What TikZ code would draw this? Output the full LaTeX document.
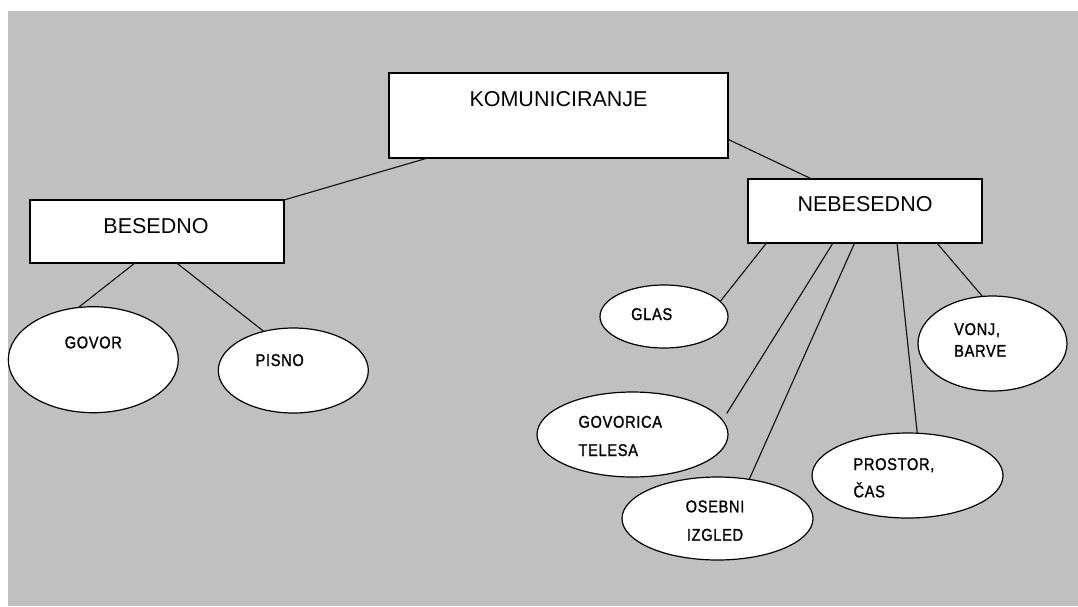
\documentclass[tikz,border=0pt]{standalone}
\usepackage{fontspec}
\setmainfont{Liberation Sans}
\newfontfamily\elfont[FakeStretch=0.86,FakeBold=1.2,LetterSpace=4]{Liberation Sans}
\usetikzlibrary{shapes.geometric}
\definecolor{bg}{HTML}{C0C0C0}
\begin{document}
\begin{tikzpicture}[x=1pt,y=-1pt,
  box/.style={draw=black, line width=1.3pt, fill=white, rectangle, inner sep=0pt, outer sep=0pt},
  oval/.style={draw=black, line width=1.2pt, fill=white, ellipse, inner sep=0pt, outer sep=0pt},
  boxtext/.style={font=\fontsize{21.5}{25}\selectfont, inner sep=0pt, anchor=base, text=black},
  ovtext/.style={font=\elfont\fontsize{17}{20}\selectfont, inner sep=0pt, anchor=base west, text=black},
  link/.style={draw=black!90, line width=1.2pt}]
\fill[white] (0,0) rectangle (1078,606);
\useasboundingbox (0,0) rectangle (1078,606);
\fill[bg] (8,11) rectangle (1078,606);

% shapes
\node[box, minimum width=339pt, minimum height=85pt] (kom) at (558.5,115.5) {};
\node[box, minimum width=254pt, minimum height=63pt] (bes) at (157,231.5) {};
\node[box, minimum width=234pt, minimum height=64pt] (neb) at (865,211) {};
\node[oval, minimum width=170pt, minimum height=106pt] (gov) at (93.3,359.7) {};
\node[oval, minimum width=150pt, minimum height=85pt] (pis) at (293.3,370.5) {};
\node[oval, minimum width=128pt, minimum height=63pt] (glas) at (664,316.5) {};
\node[oval, minimum width=149pt, minimum height=95pt] (vonj) at (992.5,343.5) {};
\node[oval, minimum width=191pt, minimum height=85pt] (govt) at (632.5,434.5) {};
\node[oval, minimum width=191pt, minimum height=83pt] (ose) at (717.5,518.5) {};
\node[oval, minimum width=191pt, minimum height=85pt] (pros) at (907.5,475.5) {};

% texts
\node[boxtext] (tkom) at (558.5,106.5) {KOMUNICIRANJE};
\node[boxtext] (tbes) at (156,233.3) {BESEDNO};
\node[boxtext] (tneb) at (865,211.7) {NEBESEDNO};
\node[ovtext, anchor=base] (tgov) at (93.3,348.3) {GOVOR};
\node[ovtext, anchor=base] (tpis) at (279.7,366) {PISNO};
\node[ovtext, anchor=base] (tglas) at (651.7,320) {GLAS};
\node[ovtext] (tvonja) at (954,335) {VONJ,};
\node[ovtext] (tvonjb) at (954,356.7) {BARVE};
\node[ovtext] (tgovta) at (578.3,427.7) {GOVORICA};
\node[ovtext] (tgovtb) at (578.3,456) {TELESA};
\node[ovtext, anchor=base] (tosea) at (715,512.3) {OSEBNI};
\node[ovtext, anchor=base] (toseb) at (715,540.7) {IZGLED};
\node[ovtext] (tprosa) at (853.3,470) {PROSTOR,};
\node[ovtext] (tprosb) at (853.3,497.3) {ČAS};

% connectors
\draw[link] (kom.198.6) -- (bes.north east);
\draw[link] (kom.352.4) -- (neb.149.8);
\draw[link] (bes.235.1) -- (gov.106);
\draw[link] (bes.302.4) -- (pis.127.6);
\draw[link] (neb.198.8) -- (glas.15.2);
\draw[link, shorten >=8pt] (neb.225) -- (govt.9);
\draw[link] (neb.252.6) -- (ose.51.2);
\draw[link] (neb.315) -- (pros.77.3);
\draw[link] (neb.336.3) -- (vonj.102.6);
\end{tikzpicture}
\end{document}
